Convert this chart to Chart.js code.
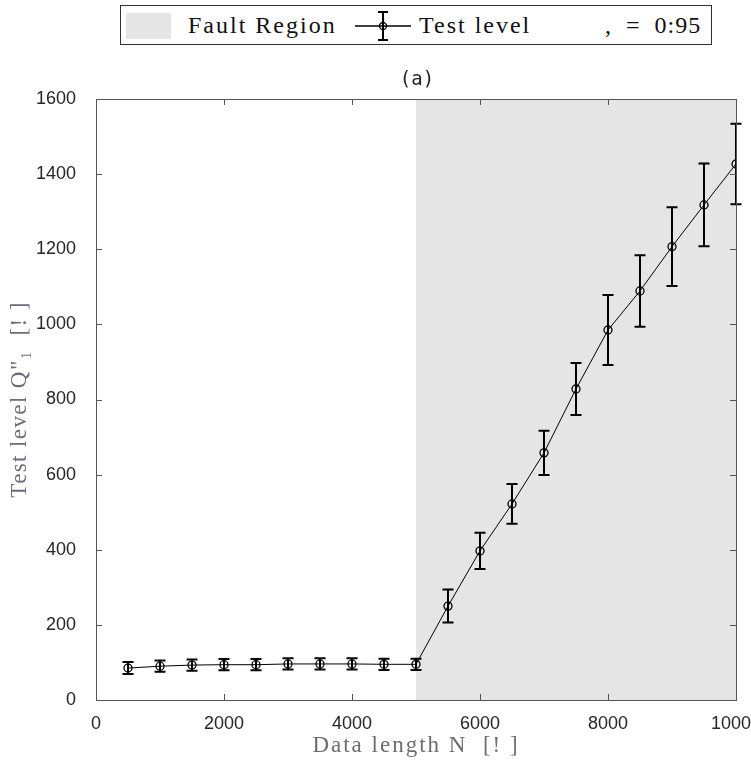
<!DOCTYPE html>
<html><head><meta charset="utf-8">
<script src="https://cdn.jsdelivr.net/npm/chart.js@4.4.1/dist/chart.umd.min.js"></script>
<style>
html,body{margin:0;padding:0;background:#fff;}
#wrap{position:relative;width:751px;height:762px;overflow:hidden;}
#c{position:absolute;left:0;top:0;}
#legend{position:absolute;left:120px;top:5px;width:590px;height:38px;border:1px solid #333;background:#fff;font-family:'Liberation Serif',serif;font-size:24px;color:#111;letter-spacing:2px;}
#legend .sw{position:absolute;left:5px;top:7px;width:45px;height:26px;background:#e5e5e5;}
#legend .t{position:absolute;top:5px;line-height:28px;white-space:nowrap;}
#legend svg{position:absolute;left:232px;top:2px;}
#title{position:absolute;left:0;width:834px;top:67px;text-align:center;font-family:'DejaVu Sans Mono',monospace;font-size:19px;color:#222;}
</style></head>
<body><div id="wrap">
<canvas id="c" width="751" height="762"></canvas>
<div id="legend">
  <div class="sw"></div>
  <div class="t" style="left:67px">Fault Region</div>
  <svg width="62" height="36" viewBox="0 0 62 36"><line x1="2" y1="18" x2="58" y2="18" stroke="#000" stroke-width="1.5"/><line x1="30" y1="4" x2="30" y2="32" stroke="#000" stroke-width="2"/><line x1="25" y1="4" x2="35" y2="4" stroke="#000" stroke-width="2"/><line x1="25" y1="32" x2="35" y2="32" stroke="#000" stroke-width="2"/><circle cx="30" cy="18" r="3.5" fill="none" stroke="#000" stroke-width="1.3"/></svg>
  <div class="t" style="left:298px">Test level</div>
  <div class="t" style="left:484px;word-spacing:7px;letter-spacing:1px">, = 0:95</div>
</div>
<div id="title">(a)</div>
</div>
<script>
const dataLength = [500,1000,1500,2000,2500,3000,3500,4000,4500,5000,5500,6000,6500,7000,7500,8000,8500,9000,9500,10000];
const testLevel  = [85,90,93,94,94,96,96,96,95,95,250,397,522,658,828,985,1089,1207,1318,1427];
const errorHalf  = [16,15,15,15,15,15,15,15,15,15,44,48,53,59,69,93,95,105,110,107];
const faultStart = 5000;
const faultEnd = 10000;
const xTicks = [0,2000,4000,6000,8000,10000];
const yTicks = [0,200,400,600,800,1000,1200,1400,1600];

const decor = {
  id:'decor',
  beforeDraw(chart){
    ['x','y'].forEach(id=>{
      const s = chart.scales[id];
      if (!s._patched) {
        const orig = s.drawTitle;
        s.drawTitle = function(){
          const c = this.ctx; c.save();
          c.letterSpacing = id === 'x' ? '2px' : '1.4px';
          orig.apply(this, arguments);
          c.restore();
        };
        s._patched = true;
      }
    });
  },
  beforeDatasetsDraw(chart){
    const {ctx, chartArea:a, scales:{x}} = chart;
    const x0 = x.getPixelForValue(faultStart), x1 = x.getPixelForValue(faultEnd);
    ctx.save();
    ctx.fillStyle = '#e5e5e5';
    ctx.fillRect(x0, a.top, x1 - x0, a.bottom - a.top);
    ctx.restore();
  },
  afterDatasetsDraw(chart){
    const {ctx, chartArea:a, scales:{x,y}} = chart;
    ctx.save();
    ctx.strokeStyle = '#000';
    ctx.lineWidth = 2;
    dataLength.forEach((n,i)=>{
      const px = x.getPixelForValue(n);
      const pt = y.getPixelForValue(testLevel[i] + errorHalf[i]);
      const pb = y.getPixelForValue(testLevel[i] - errorHalf[i]);
      const cw = 5.5;
      ctx.beginPath();
      ctx.moveTo(px, pt); ctx.lineTo(px, pb);
      ctx.moveTo(px - cw, pt); ctx.lineTo(px + cw, pt);
      ctx.moveTo(px - cw, pb); ctx.lineTo(px + cw, pb);
      ctx.stroke();
    });
    ctx.strokeStyle = '#555';
    ctx.lineWidth = 1;
    ctx.strokeRect(Math.round(a.left)+0.5, Math.round(a.top)+0.5, Math.round(a.right-a.left), Math.round(a.bottom-a.top));
    const tl = 6;
    ctx.beginPath();
    xTicks.forEach(v=>{
      const px = Math.round(x.getPixelForValue(v))+0.5;
      ctx.moveTo(px, a.bottom); ctx.lineTo(px, a.bottom - tl);
      ctx.moveTo(px, a.top); ctx.lineTo(px, a.top + tl);
    });
    yTicks.forEach(v=>{
      const py = Math.round(y.getPixelForValue(v))+0.5;
      ctx.moveTo(a.left, py); ctx.lineTo(a.left + tl, py);
      ctx.moveTo(a.right, py); ctx.lineTo(a.right - tl, py);
    });
    ctx.stroke();
    ctx.restore();
  }
};

new Chart(document.getElementById('c'), {
  type:'scatter',
  data:{
    datasets:[{
      label:'Test level',
      data: dataLength.map((n,i)=>({x:n, y:testLevel[i]})),
      showLine:true,
      borderColor:'#000',
      borderWidth:1,
      pointRadius:4,
      pointBorderWidth:1.3,
      pointBorderColor:'#000',
      pointBackgroundColor:'rgba(0,0,0,0)',
      tension:0
    }]
  },
  options:{
    responsive:false,
    animation:false,
    layout:{padding:{top:99,right:15,left:0,bottom:0}},
    plugins:{legend:{display:false},tooltip:{enabled:false}},
    scales:{
      x:{
        type:'linear', min:0, max:10000,
        afterBuildTicks(s){ s.ticks = xTicks.map(v=>({value:v})); },
        grid:{display:false}, border:{display:false},
        ticks:{padding:5, color:'#262626', font:{family:'Liberation Sans', size:18}, maxRotation:0, autoSkip:false, callback:v=>String(v)},
        title:{display:true, text:'Data length N  [! ]', color:'#6e6e6e', font:{family:'Liberation Serif', size:23}, padding:{bottom:2}},
        afterFit(s){ s.height = 62; s.paddingLeft = 0; s.paddingRight = 0; }
      },
      y:{
        type:'linear', min:0, max:1600,
        afterBuildTicks(s){ s.ticks = yTicks.map(v=>({value:v})); },
        grid:{display:false}, border:{display:false},
        ticks:{padding:12, color:'#262626', font:{family:'Liberation Sans', size:18}, callback:v=>String(v)},
        title:{display:true, text:'Test level Q"\u2081  [! ]', color:'#6c6c7c', font:{family:'Liberation Serif', size:23}, padding:{top:6}},
        afterFit(s){ s.width = 96; s.paddingTop = 0; s.paddingBottom = 0; }
      }
    }
  },
  plugins:[decor]
});
</script>
</body></html>
